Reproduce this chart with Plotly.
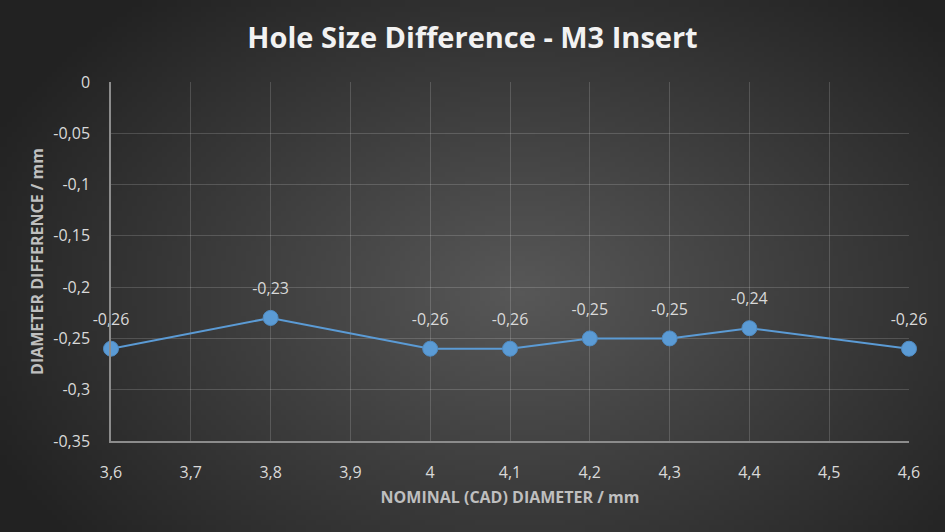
import base64
import struct
import zlib

import numpy as np
import plotly.graph_objects as go

# values
nominal_mm = [3.6, 3.8, 4.0, 4.1, 4.2, 4.3, 4.4, 4.6]
diff_mm = [-0.26, -0.23, -0.26, -0.26, -0.25, -0.25, -0.24, -0.26]

x_ticks = [3.6, 3.7, 3.8, 3.9, 4.0, 4.1, 4.2, 4.3, 4.4, 4.5, 4.6]
x_labels = ["3,6", "3,7", "3,8", "3,9", "4", "4,1", "4,2", "4,3", "4,4", "4,5", "4,6"]
y_ticks = [0, -0.05, -0.1, -0.15, -0.2, -0.25, -0.3, -0.35]
y_labels = ["0", "-0,05", "-0,1", "-0,15", "-0,2", "-0,25", "-0,3", "-0,35"]

W, H = 945, 532
L, R, T, B = 111, 36, 82, 91


def radial_png(w, h, inner=(0x58, 0x58, 0x58), outer=(0x22, 0x22, 0x22)):
    # Excel style dark radial gradient, written as a tiny png
    yy, xx = np.mgrid[0:h, 0:w]
    dx = (xx / (w - 1) - 0.55) / 0.62
    dy = (yy / (h - 1) - 0.55) / 0.75
    t = np.clip(np.sqrt(dx ** 2 + dy ** 2), 0, 1)
    img = np.zeros((h, w, 3), dtype=np.uint8)
    for c in range(3):
        img[..., c] = (inner[c] + (outer[c] - inner[c]) * t).astype(np.uint8)
    raw = b"".join(b"\x00" + img[r].tobytes() for r in range(h))

    def chunk(tag, data):
        return (struct.pack(">I", len(data)) + tag + data
                + struct.pack(">I", zlib.crc32(tag + data) & 0xffffffff))

    png = (b"\x89PNG\r\n\x1a\n"
           + chunk(b"IHDR", struct.pack(">IIBBBBB", w, h, 8, 2, 0, 0, 0))
           + chunk(b"IDAT", zlib.compress(raw, 9))
           + chunk(b"IEND", b""))
    return "data:image/png;base64," + base64.b64encode(png).decode()


fig = go.Figure()
fig.add_trace(go.Scatter(
    x=nominal_mm, y=diff_mm,
    mode="lines+markers",
    line=dict(color="#5B9BD5", width=2),
    marker=dict(color="#5B9BD5", size=15, line=dict(color="#4F8CC4", width=1)),
    cliponaxis=False,
    showlegend=False, hoverinfo="x+y",
))
# data labels, pushed up a bit with a large invisible marker
fig.add_trace(go.Scatter(
    x=nominal_mm, y=diff_mm,
    mode="markers+text",
    marker=dict(size=30, opacity=0),
    texttemplate="%{y:.2f}",
    textposition="top center",
    textfont=dict(family="Open Sans", size=16, color="#D9D9D9"),
    cliponaxis=False,
    showlegend=False, hoverinfo="skip",
))

pw, ph = W - L - R, H - T - B
fig.add_layout_image(dict(
    source=radial_png(190, 107),
    xref="paper", yref="paper",
    x=-L / pw, y=1 + T / ph,
    sizex=W / pw, sizey=H / ph,
    xanchor="left", yanchor="top",
    sizing="stretch", layer="below",
))

axis_font = dict(family="Open Sans", size=16, color="#D9D9D9")
title_font = dict(family="Open Sans", size=16, color="#BFBFBF", weight="bold")

fig.update_layout(
    width=W, height=H,
    margin=dict(l=L, r=R, t=T, b=B),
    paper_bgcolor="#333333",
    plot_bgcolor="rgba(0,0,0,0)",
    separators=", ",
    title=dict(text="Hole Size Difference - M3 Insert", x=0.5, xanchor="center",
               y=1 - 38 / H, yanchor="middle",
               font=dict(family="Open Sans", size=29, color="#F2F2F2", weight="bold")),
    xaxis=dict(range=[3.6, 4.6], tickvals=x_ticks, ticktext=x_labels,
               showgrid=True, gridcolor="rgba(255,255,255,0.16)", gridwidth=1,
               showline=True, linecolor="#8C8C8C", linewidth=1.5,
               zeroline=False, ticks="", tickfont=axis_font, ticklabelstandoff=16,
               title=dict(text="NOMINAL (CAD) DIAMETER / mm", font=title_font, standoff=10)),
    yaxis=dict(range=[-0.35, 0], tickvals=y_ticks, ticktext=y_labels,
               showgrid=True, gridcolor="rgba(255,255,255,0.16)", gridwidth=1,
               showline=True, linecolor="#8C8C8C", linewidth=1.5,
               zeroline=False, ticks="", tickfont=axis_font, ticklabelstandoff=16,
               title=dict(text="DIAMETER DIFFERENCE / mm", font=title_font, standoff=6)),
)

fig.write_html("out.html", config={"displayModeBar": False},
               post_script="document.body.style.margin='0';")
